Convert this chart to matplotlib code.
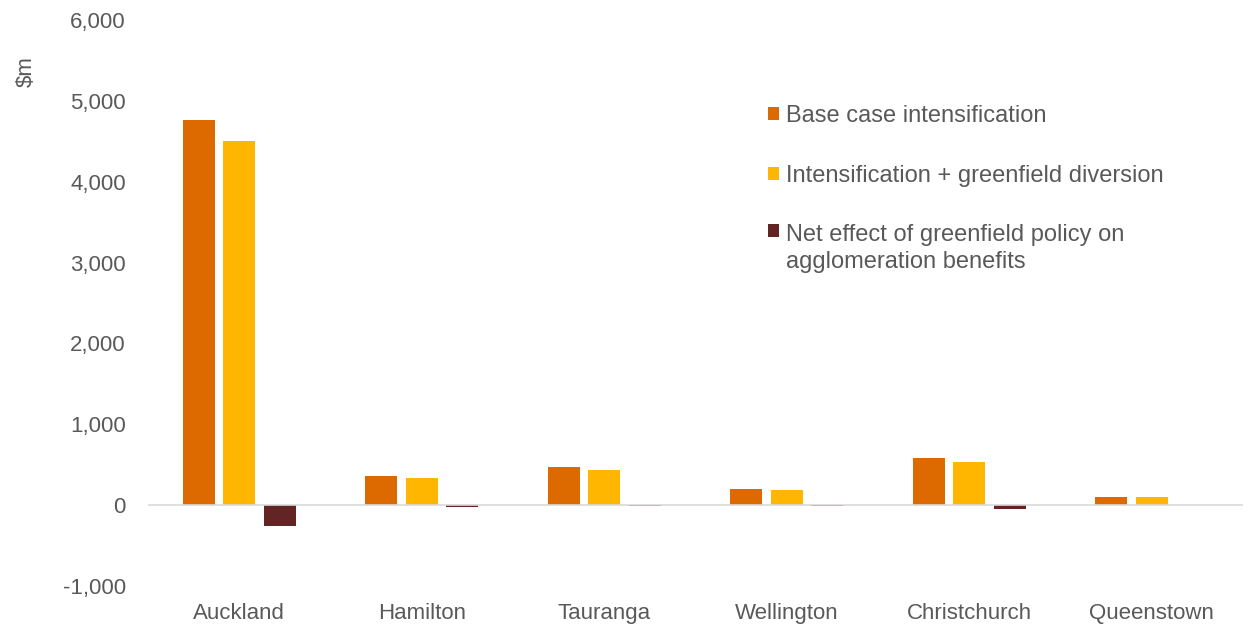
import matplotlib.pyplot as plt
import numpy as np

plt.rcParams['font.family'] = ['Liberation Sans', 'DejaVu Sans']

cities = ['Auckland', 'Hamilton', 'Tauranga', 'Wellington', 'Christchurch', 'Queenstown']
base_case = [4760, 355, 466, 198, 581, 103]
with_greenfield = [4500, 338, 433, 182, 528, 100]
net_effect = [-255, -17, -6, -16, -45, -3]

series_names = ['Base case intensification',
                'Intensification + greenfield diversion',
                'Net effect of greenfield policy on\nagglomeration benefits']
colors = ['#DD6A00', '#FFB600', '#632523']
grey = '#595959'

fig = plt.figure(figsize=(12.48, 6.28), dpi=100)
ax = fig.add_axes([0.1186, 0.0669, 0.8774, 0.9013])

x = np.arange(len(cities))
w = 0.177
step = 0.222
for i, (vals, name, c) in enumerate(zip([base_case, with_greenfield, net_effect], series_names, colors)):
    ax.bar(x + (i - 1) * step, vals, width=w, color=c, label=name, zorder=2)

ax.axhline(0, color='#d9d9d9', lw=1.2, zorder=3)

ax.set_xlim(-0.5, len(cities) - 0.5)
ax.set_ylim(-1000, 6000)
ax.set_yticks(np.arange(-1000, 6001, 1000))
ax.set_yticklabels([f'{v:,}' for v in range(-1000, 6001, 1000)])
ax.set_xticks(x)
ax.set_xticklabels(cities)
ax.tick_params(axis='both', length=0, labelsize=16, colors=grey)
ax.tick_params(axis='x', pad=12)
ax.tick_params(axis='y', pad=16)
for s in ax.spines.values():
    s.set_visible(False)

ax.set_ylabel('$m', fontsize=16, color=grey)
ax.yaxis.set_label_coords(-0.102, 0.908)

leg = ax.legend(loc='upper left', bbox_to_anchor=(0.566, 0.850), frameon=False,
                fontsize=17, borderpad=0, borderaxespad=0, handlelength=0.48,
                handleheight=0.46, handletextpad=0.28, labelspacing=1.6)
for t in leg.get_texts():
    t.set_color(grey)
    t.set_linespacing(1.28)
# keep the square of the two-line entry beside its first line
for col in leg._legend_handle_box.get_children():
    for item in col.get_children():
        txt = item.get_children()[1]
        if '\n' in txt.get_text():
            item.align = 'top'

fig.savefig('out.png', dpi=100)
